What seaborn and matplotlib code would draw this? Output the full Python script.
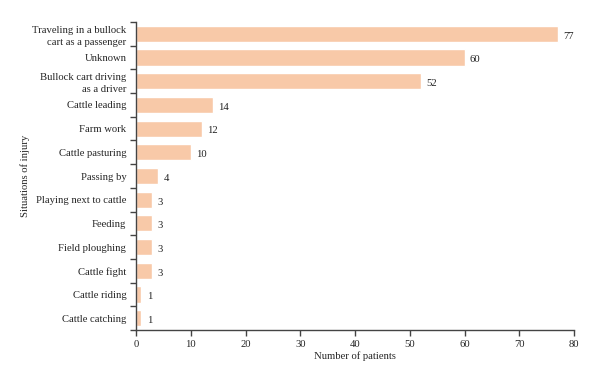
import matplotlib
matplotlib.use("Agg")
import matplotlib.pyplot as plt
import seaborn as sns
import pandas as pd
import numpy as np

categories = ["Traveling in a bullock\ncart as a passenger", "Unknown",
              "Bullock cart driving\nas a driver", "Cattle leading", "Farm work",
              "Cattle pasturing", "Passing by", "Playing next to cattle", "Feeding",
              "Field ploughing", "Cattle fight", "Cattle riding", "Cattle catching"]
values = [77, 60, 52, 14, 12, 10, 4, 3, 3, 3, 3, 1, 1]
xticks = [0, 10, 20, 30, 40, 50, 60, 70, 80]

sns.set_style("white")
plt.rcParams['font.family'] = ['Liberation Serif', 'DejaVu Serif']

FS = 7.7
df = pd.DataFrame({"situation": categories, "patients": values})

fig = plt.figure(figsize=(6, 3.84), dpi=100)
ax = fig.add_axes([0.2267, 0.1406, 0.7300, 0.8021])
sns.barplot(data=df, y="situation", x="patients", orient="h", color="#F8C9A8",
            saturation=1, width=0.68, ax=ax)

for i, v in enumerate(values):
    ax.text(v + 1.0, i + 0.1, str(v), va="center", ha="left", fontsize=FS, color="#222222")

ax.set_xlim(0, 80)
ax.set_ylim(len(categories) - 0.5, -0.5)
ax.set_xticks(xticks)
ax.set_xticklabels([str(t) for t in xticks], fontsize=FS)
ax.set_yticks(np.arange(len(categories)))
ax.set_yticklabels(categories, fontsize=FS, linespacing=1.45)
ax.tick_params(axis="y", which="major", left=True, length=0, pad=7)
ax.set_yticks(np.arange(-0.5, len(categories)), minor=True)
ax.tick_params(axis="y", which="minor", left=True, length=4, width=1, color="#444444", direction="out")
ax.tick_params(axis="x", which="major", bottom=True, length=4, width=1, color="#444444", direction="out", pad=3)

for s in ["top", "right"]:
    ax.spines[s].set_visible(False)
for s in ["left", "bottom"]:
    ax.spines[s].set_color("#444444")
    ax.spines[s].set_linewidth(1)

ax.set_xlabel("Number of patients", fontsize=FS, labelpad=2)
ax.set_ylabel("Situations of injury", fontsize=FS)
ax.yaxis.set_label_coords(-0.242, 0.5)

fig.savefig("out.png", dpi=100)
